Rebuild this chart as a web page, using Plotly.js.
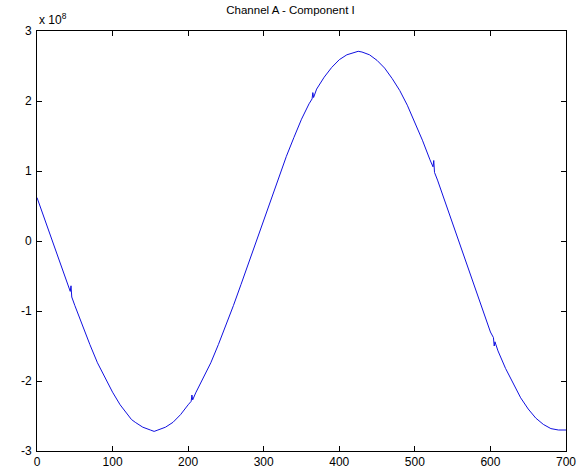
<!DOCTYPE html>
<html>
<head>
<meta charset="utf-8">
<script src="https://cdn.plot.ly/plotly-3.0.1.min.js"></script>
<style>html,body{margin:0;padding:0;background:#fff;}#chart{width:581px;height:473px;}</style>
</head>
<body>
<div id="chart"></div>
<script>
const titleText = "Channel A - Component I";
const xTicks = [0, 100, 200, 300, 400, 500, 600, 700];
const yTicks = [-3, -2, -1, 0, 1, 2, 3];
const sampleX = [0, 10, 20, 30, 40, 44, 45, 46, 50, 60, 70, 80, 90, 100, 110, 120, 125, 130, 140, 150, 155, 160, 170, 180, 190, 200, 204, 205, 206, 210, 220, 230, 240, 250, 260, 270, 280, 290, 300, 310, 320, 330, 340, 350, 360, 364, 365, 366, 370, 380, 390, 400, 410, 420, 425, 430, 440, 450, 460, 470, 480, 490, 500, 510, 520, 524, 525, 526, 530, 540, 550, 560, 570, 580, 590, 600, 604, 605, 606, 610, 620, 630, 640, 650, 660, 670, 680, 690, 700];
const componentI = [0.62, 0.31, 0.0, -0.31, -0.62, -0.72, -0.64, -0.80, -0.92, -1.21, -1.48, -1.74, -1.96, -2.16, -2.34, -2.48, -2.55, -2.59, -2.66, -2.70, -2.72, -2.70, -2.66, -2.59, -2.48, -2.34, -2.29, -2.20, -2.27, -2.17, -1.96, -1.74, -1.48, -1.21, -0.92, -0.62, -0.31, 0.0, 0.31, 0.62, 0.92, 1.21, 1.48, 1.74, 1.96, 2.03, 2.12, 2.05, 2.17, 2.34, 2.48, 2.59, 2.66, 2.70, 2.71, 2.70, 2.66, 2.58, 2.47, 2.32, 2.15, 1.94, 1.70, 1.44, 1.16, 1.06, 1.15, 0.98, 0.87, 0.56, 0.24, -0.08, -0.40, -0.71, -1.01, -1.30, -1.38, -1.50, -1.44, -1.57, -1.82, -2.04, -2.24, -2.40, -2.53, -2.62, -2.68, -2.70, -2.70];

const fontFamily = 'Liberation Sans, Arial, sans-serif';
const axisCommon = {
  showgrid: false, zeroline: false, showline: true, linecolor: '#000', linewidth: 1,
  mirror: 'ticks', ticks: 'inside', ticklen: 5, tickcolor: '#000', tickwidth: 1,
  tickfont: {family: fontFamily, size: 12, color: '#000'}
};

const data = [{
  x: sampleX, y: componentI, type: 'scatter', mode: 'lines',
  line: {color: '#1010e0', width: 1}, hoverinfo: 'none'
}];

const layout = {
  width: 581, height: 473,
  margin: {l: 37, r: 15, t: 31, b: 22},
  paper_bgcolor: '#fff', plot_bgcolor: '#fff',
  showlegend: false,
  title: {text: titleText, x: 0.5, xanchor: 'center', y: 0.988, yanchor: 'top',
          font: {family: fontFamily, size: 11.5, color: '#000'}},
  xaxis: Object.assign({}, axisCommon, {range: [0, 700], tickvals: xTicks, ticktext: xTicks.map(String)}),
  yaxis: Object.assign({}, axisCommon, {range: [-3, 3], tickvals: yTicks, ticktext: yTicks.map(String), ticklabelstandoff: 2}),
  annotations: [{
    text: 'x 10<sup>8</sup>', xref: 'paper', yref: 'paper', x: 0, y: 1, xanchor: 'left', yanchor: 'bottom',
    yshift: 2, showarrow: false, font: {family: fontFamily, size: 12, color: '#000'}
  }]
};

Plotly.newPlot('chart', data, layout, {displayModeBar: false, staticPlot: true});
</script>
</body>
</html>
